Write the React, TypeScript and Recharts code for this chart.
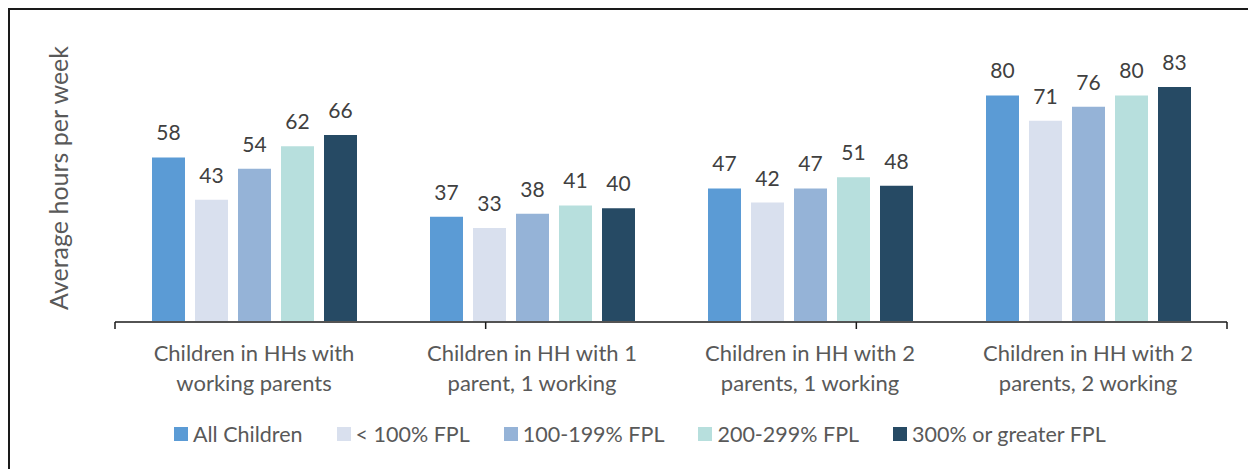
import React from "react";
import { BarChart, Bar, XAxis, YAxis, LabelList } from "recharts";

const categories = [
  "Children in HHs with\nworking parents",
  "Children in HH with 1\nparent, 1 working",
  "Children in HH with 2\nparents, 1 working",
  "Children in HH with 2\nparents, 2 working",
];
const seriesNames = ["All Children", "< 100% FPL", "100-199% FPL", "200-299% FPL", "300% or greater FPL"];
const allChildren = [58, 37, 47, 80];
const fpl100 = [43, 33, 42, 71];
const fpl100199 = [54, 38, 47, 76];
const fpl200299 = [62, 41, 51, 80];
const fpl300 = [66, 40, 48, 83];
const colors = ["#5B9BD5", "#D9E0EE", "#95B3D7", "#B7DFDD", "#264A64"];
const yLabel = "Average hours per week";
const boundaryTicks = [0, 1, 2, 3, 4];

const seriesValues = [allChildren, fpl100, fpl100199, fpl200299, fpl300];
const keys = ["s0", "s1", "s2", "s3", "s4"];
const data = categories.map((c, i) => {
  const row: any = { name: c };
  keys.forEach((k, j) => (row[k] = seriesValues[j][i]));
  return row;
});

const FONT = "Lato, 'Open Sans', sans-serif";

const CatTick = (props: any) => {
  const { x, y, payload } = props;
  const lines = String(payload.value).split("\n");
  return (
    <g transform={`translate(${x},${y})`}>
      {lines.map((l, i) => (
        <text key={i} x={0} y={23 + i * 30} textAnchor="middle" dominantBaseline="central" fill="#595959" fontSize={22} fontFamily={FONT}>
          {l}
        </text>
      ))}
    </g>
  );
};

const YLabel = (props: any) => {
  const vb = props.viewBox || {};
  const cx = 50;
  const cy = (vb.y ?? 31) + (vb.height ?? 282) / 2 - 2;
  return (
    <text
      x={cx}
      y={cy}
      transform={`rotate(-90, ${cx}, ${cy})`}
      textAnchor="middle"
      dominantBaseline="central"
      fill="#595959"
      fontSize={25}
      fontFamily={FONT}
    >
      {yLabel}
    </text>
  );
};

export default function App() {
  return (
    <div style={{ position: "relative", width: 1248, height: 461 }}>
      <BarChart
        width={1248}
        height={461}
        data={data}
        margin={{ top: 31, left: 0, right: 29, bottom: 146 }}
        barSize={33}
        barGap={10}
      >
        <YAxis
          yAxisId="y"
          width={107}
          domain={[0, 100]}
          tick={false}
          axisLine={false}
          tickLine={false}
          label={<YLabel />}
        />
        <XAxis
          xAxisId="cat"
          dataKey="name"
          height={1}
          axisLine={false}
          tickLine={false}
          interval={0}
          tick={<CatTick />}
        />
        <XAxis
          xAxisId="num"
          type="number"
          domain={[0, 4]}
          ticks={boundaryTicks}
          height={1}
          tickSize={7}
          tickFormatter={() => ""}
          allowDataOverflow
          axisLine={{ stroke: "#1a1a1a", strokeWidth: 1.5 }}
          tickLine={{ stroke: "#1a1a1a", strokeWidth: 1.5 }}
        />
        {keys.map((k, j) => (
          <Bar key={k} dataKey={k} name={seriesNames[j]} xAxisId="cat" yAxisId="y" fill={colors[j]} isAnimationActive={false}>
            <LabelList dataKey={k} position="top" offset={17} fill="#404040" fontSize={21} fontFamily={FONT} />
          </Bar>
        ))}
      </BarChart>
      <div
        style={{
          position: "absolute",
          left: 166,
          top: 413,
          display: "flex",
          alignItems: "center",
          gap: 34,
          fontFamily: FONT,
          fontSize: 21.5,
          color: "#595959",
          whiteSpace: "nowrap",
        }}
      >
        {seriesNames.map((n, j) => (
          <div key={n} style={{ display: "flex", alignItems: "center", gap: 5 }}>
            <span style={{ width: 14, height: 14, background: colors[j], display: "inline-block" }} />
            <span>{n}</span>
          </div>
        ))}
      </div>
      <div
        style={{
          position: "absolute",
          left: 0,
          top: 0,
          width: 1248,
          height: 470,
          boxSizing: "border-box",
          borderTop: "2px solid #1a1a1a",
          borderLeft: "2px solid #1a1a1a",
          borderRight: "1px solid #888",
          pointerEvents: "none",
        }}
      />
    </div>
  );
}
